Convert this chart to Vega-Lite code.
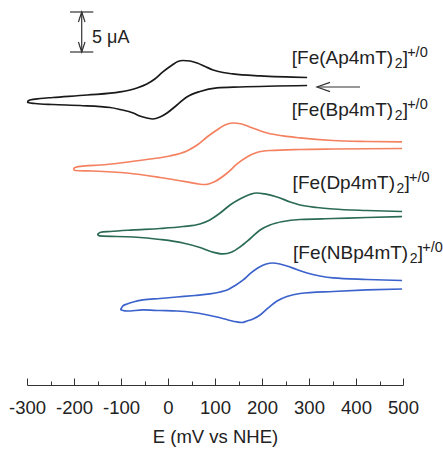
{
  "$schema": "https://vega.github.io/schema/vega-lite/v6.json",
  "width": 376,
  "height": 385,
  "autosize": {"type": "none"},
  "padding": {"left": 27, "top": 0, "right": 40, "bottom": 64},
  "background": "white",
  "config": {"view": {"stroke": null}, "font": "Liberation Sans"},
  "datasets": {
    "cv": [
      {"c":"Ap","i":1,"E":296,"I":37.44},{"c":"Ap","i":2,"E":153,"I":37.25},{"c":"Ap","i":3,"E":104,"I":37.13},{"c":"Ap","i":4,"E":68,"I":36.69},{"c":"Ap","i":5,"E":40,"I":36.0},{"c":"Ap","i":6,"E":19,"I":35.0},{"c":"Ap","i":7,"E":-2,"I":34.0},{"c":"Ap","i":8,"E":-17,"I":33.5},{"c":"Ap","i":9,"E":-32,"I":33.25},{"c":"Ap","i":10,"E":-45,"I":33.38},{"c":"Ap","i":11,"E":-60,"I":33.63},{"c":"Ap","i":12,"E":-74,"I":34.0},{"c":"Ap","i":13,"E":-102,"I":34.44},{"c":"Ap","i":14,"E":-123,"I":34.69},{"c":"Ap","i":15,"E":-187,"I":34.94},{"c":"Ap","i":16,"E":-245,"I":35.06},{"c":"Ap","i":17,"E":-283,"I":35.19},{"c":"Ap","i":18,"E":-298,"I":35.31},{"c":"Ap","i":19,"E":-300,"I":35.44},{"c":"Ap","i":20,"E":-294,"I":35.63},{"c":"Ap","i":21,"E":-272,"I":35.81},{"c":"Ap","i":22,"E":-245,"I":35.94},{"c":"Ap","i":23,"E":-172,"I":36.25},{"c":"Ap","i":24,"E":-102,"I":36.63},{"c":"Ap","i":25,"E":-66,"I":37.13},{"c":"Ap","i":26,"E":-45,"I":37.63},{"c":"Ap","i":27,"E":-28,"I":38.25},{"c":"Ap","i":28,"E":-11,"I":39.13},{"c":"Ap","i":29,"E":9,"I":40.0},{"c":"Ap","i":30,"E":21,"I":40.44},{"c":"Ap","i":31,"E":32,"I":40.56},{"c":"Ap","i":32,"E":47,"I":40.5},{"c":"Ap","i":33,"E":62,"I":40.25},{"c":"Ap","i":34,"E":79,"I":39.81},{"c":"Ap","i":35,"E":96,"I":39.38},{"c":"Ap","i":36,"E":117,"I":39.06},{"c":"Ap","i":37,"E":138,"I":38.88},{"c":"Ap","i":38,"E":196,"I":38.63},{"c":"Ap","i":39,"E":296,"I":38.44},
      {"c":"Bp","i":1,"E":498,"I":30.38},{"c":"Bp","i":2,"E":423,"I":30.44},{"c":"Bp","i":3,"E":351,"I":30.56},{"c":"Bp","i":4,"E":281,"I":30.88},{"c":"Bp","i":5,"E":245,"I":31.13},{"c":"Bp","i":6,"E":211,"I":31.5},{"c":"Bp","i":7,"E":174,"I":32.25},{"c":"Bp","i":8,"E":157,"I":32.63},{"c":"Bp","i":9,"E":138,"I":32.75},{"c":"Bp","i":10,"E":121,"I":32.5},{"c":"Bp","i":11,"E":104,"I":31.88},{"c":"Bp","i":12,"E":83,"I":31.0},{"c":"Bp","i":13,"E":62,"I":30.0},{"c":"Bp","i":14,"E":40,"I":29.25},{"c":"Bp","i":15,"E":4,"I":28.63},{"c":"Bp","i":16,"E":-38,"I":28.25},{"c":"Bp","i":17,"E":-102,"I":27.75},{"c":"Bp","i":18,"E":-145,"I":27.5},{"c":"Bp","i":19,"E":-177,"I":27.38},{"c":"Bp","i":20,"E":-198,"I":27.19},{"c":"Bp","i":21,"E":-202,"I":27.0},{"c":"Bp","i":22,"E":-198,"I":26.81},{"c":"Bp","i":23,"E":-160,"I":26.75},{"c":"Bp","i":24,"E":-87,"I":26.5},{"c":"Bp","i":25,"E":-17,"I":25.94},{"c":"Bp","i":26,"E":40,"I":25.38},{"c":"Bp","i":27,"E":64,"I":25.13},{"c":"Bp","i":28,"E":79,"I":25.06},{"c":"Bp","i":29,"E":100,"I":25.44},{"c":"Bp","i":30,"E":126,"I":26.5},{"c":"Bp","i":31,"E":147,"I":27.63},{"c":"Bp","i":32,"E":168,"I":28.5},{"c":"Bp","i":33,"E":189,"I":29.06},{"c":"Bp","i":34,"E":217,"I":29.31},{"c":"Bp","i":35,"E":281,"I":29.44},{"c":"Bp","i":36,"E":351,"I":29.5},{"c":"Bp","i":37,"E":498,"I":29.56},
      {"c":"Dp","i":1,"E":498,"I":21.69},{"c":"Dp","i":2,"E":423,"I":21.81},{"c":"Dp","i":3,"E":351,"I":22.0},{"c":"Dp","i":4,"E":317,"I":22.19},{"c":"Dp","i":5,"E":281,"I":22.5},{"c":"Dp","i":6,"E":260,"I":22.88},{"c":"Dp","i":7,"E":232,"I":23.5},{"c":"Dp","i":8,"E":206,"I":23.88},{"c":"Dp","i":9,"E":189,"I":24.0},{"c":"Dp","i":10,"E":174,"I":23.81},{"c":"Dp","i":11,"E":153,"I":23.25},{"c":"Dp","i":12,"E":132,"I":22.5},{"c":"Dp","i":13,"E":111,"I":21.5},{"c":"Dp","i":14,"E":89,"I":20.63},{"c":"Dp","i":15,"E":68,"I":20.13},{"c":"Dp","i":16,"E":32,"I":19.81},{"c":"Dp","i":17,"E":-17,"I":19.56},{"c":"Dp","i":18,"E":-74,"I":19.38},{"c":"Dp","i":19,"E":-123,"I":19.19},{"c":"Dp","i":20,"E":-145,"I":19.06},{"c":"Dp","i":21,"E":-151,"I":18.81},{"c":"Dp","i":22,"E":-145,"I":18.63},{"c":"Dp","i":23,"E":-74,"I":18.5},{"c":"Dp","i":24,"E":-17,"I":18.19},{"c":"Dp","i":25,"E":32,"I":17.75},{"c":"Dp","i":26,"E":68,"I":17.19},{"c":"Dp","i":27,"E":94,"I":16.63},{"c":"Dp","i":28,"E":117,"I":16.38},{"c":"Dp","i":29,"E":136,"I":16.63},{"c":"Dp","i":30,"E":153,"I":17.25},{"c":"Dp","i":31,"E":174,"I":18.25},{"c":"Dp","i":32,"E":196,"I":19.38},{"c":"Dp","i":33,"E":217,"I":20.0},{"c":"Dp","i":34,"E":245,"I":20.44},{"c":"Dp","i":35,"E":281,"I":20.69},{"c":"Dp","i":36,"E":351,"I":20.81},{"c":"Dp","i":37,"E":423,"I":20.94},{"c":"Dp","i":38,"E":498,"I":21.06},
      {"c":"NBp","i":1,"E":498,"I":13.06},{"c":"NBp","i":2,"E":423,"I":13.19},{"c":"NBp","i":3,"E":351,"I":13.38},{"c":"NBp","i":4,"E":323,"I":13.63},{"c":"NBp","i":5,"E":296,"I":14.0},{"c":"NBp","i":6,"E":274,"I":14.44},{"c":"NBp","i":7,"E":253,"I":14.88},{"c":"NBp","i":8,"E":238,"I":15.13},{"c":"NBp","i":9,"E":223,"I":15.25},{"c":"NBp","i":10,"E":209,"I":15.13},{"c":"NBp","i":11,"E":191,"I":14.63},{"c":"NBp","i":12,"E":174,"I":13.88},{"c":"NBp","i":13,"E":160,"I":13.13},{"c":"NBp","i":14,"E":143,"I":12.44},{"c":"NBp","i":15,"E":126,"I":11.88},{"c":"NBp","i":16,"E":111,"I":11.63},{"c":"NBp","i":17,"E":89,"I":11.38},{"c":"NBp","i":18,"E":57,"I":11.19},{"c":"NBp","i":19,"E":19,"I":11.0},{"c":"NBp","i":20,"E":-17,"I":10.81},{"c":"NBp","i":21,"E":-53,"I":10.63},{"c":"NBp","i":22,"E":-70,"I":10.44},{"c":"NBp","i":23,"E":-87,"I":10.13},{"c":"NBp","i":24,"E":-96,"I":9.88},{"c":"NBp","i":25,"E":-102,"I":9.44},{"c":"NBp","i":26,"E":-96,"I":9.31},{"c":"NBp","i":27,"E":-87,"I":9.25},{"c":"NBp","i":28,"E":-53,"I":9.38},{"c":"NBp","i":29,"E":-17,"I":9.31},{"c":"NBp","i":30,"E":19,"I":9.25},{"c":"NBp","i":31,"E":53,"I":9.06},{"c":"NBp","i":32,"E":79,"I":8.81},{"c":"NBp","i":33,"E":104,"I":8.5},{"c":"NBp","i":34,"E":128,"I":8.13},{"c":"NBp","i":35,"E":147,"I":7.88},{"c":"NBp","i":36,"E":157,"I":7.81},{"c":"NBp","i":37,"E":168,"I":8.0},{"c":"NBp","i":38,"E":181,"I":8.25},{"c":"NBp","i":39,"E":196,"I":8.75},{"c":"NBp","i":40,"E":213,"I":9.63},{"c":"NBp","i":41,"E":232,"I":10.5},{"c":"NBp","i":42,"E":253,"I":11.06},{"c":"NBp","i":43,"E":281,"I":11.44},{"c":"NBp","i":44,"E":351,"I":11.69},{"c":"NBp","i":45,"E":423,"I":11.88},{"c":"NBp","i":46,"E":498,"I":12.0}
    ],
    "labels": [
      {"main":"[Fe(Ap4mT)","E":479,"I":40.125},
      {"main":"[Fe(Bp4mT)","E":479,"I":33.625},
      {"main":"[Fe(Dp4mT)","E":483,"I":24.5},
      {"main":"[Fe(NBp4mT)","E":511,"I":15.75}
    ],
    "segs": [
      {"E":-183.6,"E2":-183.6,"I":41.625,"I2":46.625},
      {"E":-208.5,"E2":-158.9,"I":46.625,"I2":46.625},
      {"E":-208.5,"E2":-158.9,"I":41.625,"I2":41.625},
      {"E":317,"E2":408.5,"I":37.25,"I2":37.25}
    ],
    "heads": [
      {"E":-183.6,"I":46.625,"dir":"up"},
      {"E":-183.6,"I":41.625,"dir":"down"},
      {"E":317,"I":37.25,"dir":"left"}
    ],
    "note": [{"E":-161.7,"I":42.75,"t":"5 μA"}]
  },
  "encoding": {
    "x": {"field": "E", "type": "quantitative",
      "scale": {"domain": [-300, 500], "nice": false, "zero": false},
      "axis": {
        "values": [-300,-250,-200,-150,-100,-50,0,50,100,150,200,250,300,350,400,450,500],
        "labelExpr": "datum.value % 100 === 0 ? '' + datum.value : ''",
        "tickSize": {"condition": {"test": "datum.value % 100 === 0", "value": -7}, "value": -4},
        "labelPadding": 20,
        "labelFlush": false,
        "labelOverlap": false,
        "labelFont": "Liberation Sans",
        "labelFontSize": 18.5,
        "labelColor": "#222",
        "domainColor": "#333",
        "tickColor": "#333",
        "grid": false,
        "title": "E (mV vs NHE)",
        "titleFont": "Liberation Sans",
        "titleFontSize": 18.5,
        "titleFontWeight": "normal",
        "titleColor": "#222",
        "titlePadding": 8
      }},
    "y": {"field": "I", "type": "quantitative", "scale": {"domain": [0, 48.125], "nice": false, "zero": false}, "axis": null}
  },
  "layer": [
    {
      "data": {"name": "cv"},
      "mark": {"type": "line", "strokeWidth": 1.7, "interpolate": "monotone"},
      "encoding": {
        "color": {"field": "c", "type": "nominal", "legend": null,
          "scale": {"domain": ["Ap", "Bp", "Dp", "NBp"], "range": ["#1a1a1a", "#f4815f", "#2b6b55", "#3c63cc"]}},
        "order": {"field": "i", "type": "quantitative"}
      }
    },
    {
      "data": {"name": "segs"},
      "mark": {"type": "rule", "color": "#333", "strokeWidth": 1.2},
      "encoding": {
        "x2": {"field": "E2"},
        "y2": {"field": "I2"}
      }
    },
    {
      "data": {"name": "heads"},
      "mark": {"type": "point", "filled": false, "size": 16, "stroke": "#333", "strokeWidth": 1.2, "opacity": 1},
      "encoding": {
        "shape": {"field": "dir", "type": "nominal", "legend": null,
          "scale": {"domain": ["up", "down", "left"], "range": ["M-1.65,5L0,0L1.65,5", "M-1.65,-5L0,0L1.65,-5", "M6.5,-2.3L0,0L6.5,2.3"]}}
      }
    },
    {
      "data": {"name": "note"},
      "mark": {"type": "text", "align": "left", "baseline": "alphabetic", "fontSize": 18, "font": "Liberation Sans", "color": "#222"},
      "encoding": {
        "text": {"field": "t"}
      }
    },
    {
      "data": {"name": "labels"},
      "mark": {"type": "text", "align": "right", "baseline": "alphabetic", "fontSize": 19, "font": "Liberation Sans", "color": "#222"},
      "encoding": {
        "text": {"field": "main"}
      }
    },
    {
      "data": {"name": "labels"},
      "mark": {"type": "text", "align": "left", "baseline": "alphabetic", "fontSize": 14, "font": "Liberation Sans", "color": "#222", "dx": 1.5, "dy": 4, "text": "2"}
    },
    {
      "data": {"name": "labels"},
      "mark": {"type": "text", "align": "left", "baseline": "alphabetic", "fontSize": 19, "font": "Liberation Sans", "color": "#222", "dx": 9.5, "text": "]"}
    },
    {
      "data": {"name": "labels"},
      "mark": {"type": "text", "align": "left", "baseline": "alphabetic", "fontSize": 14.5, "font": "Liberation Sans", "color": "#222", "dx": 14, "dy": -7, "text": "+/0"}
    }
  ]
}
